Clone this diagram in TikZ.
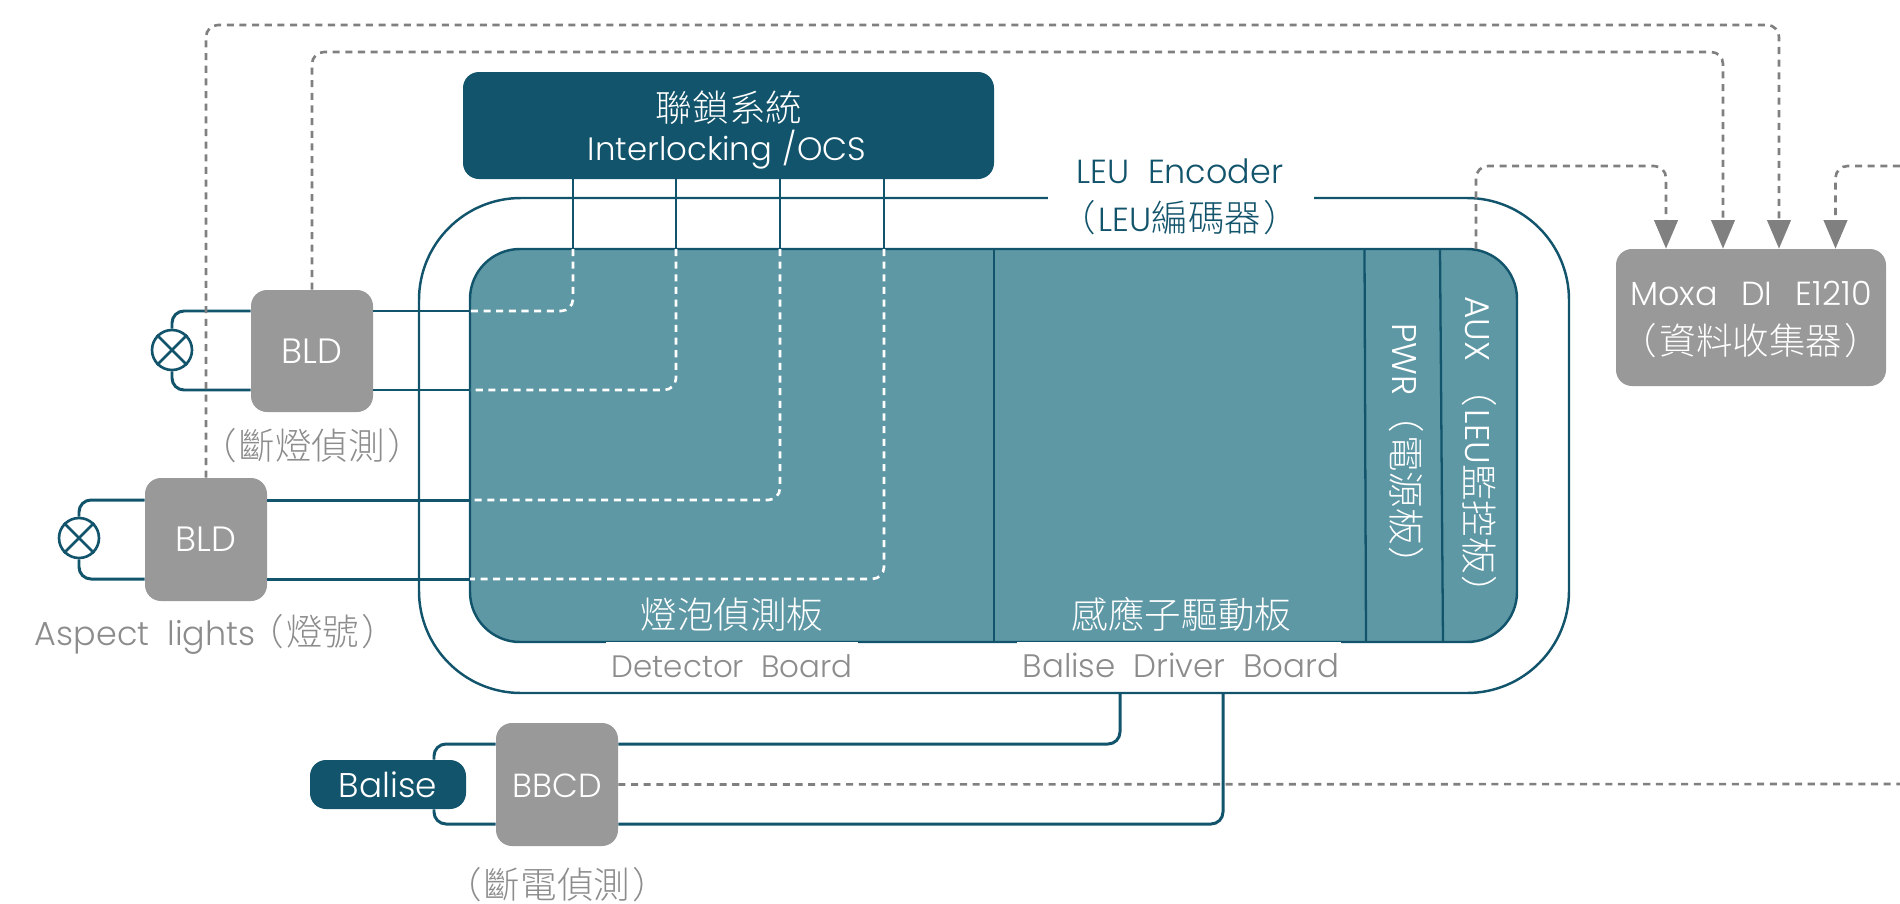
\documentclass[tikz,border=0pt]{standalone}
\usepackage{fontspec}
\setmainfont{Poppins Light}[WordSpace=2]
\newfontfamily\cjk[RawFeature=+palt]{Noto Sans CJK TC Light}
\usetikzlibrary{arrows.meta}
\definecolor{deepteal}{HTML}{12546B}
\definecolor{midteal}{HTML}{5F98A5}
\definecolor{boxgrey}{HTML}{999999}
\definecolor{linegrey}{HTML}{808080}
\definecolor{labelgrey}{HTML}{8C8C8C}
\newcommand{\cn}[1]{{\cjk\fontsize{20.8pt}{24pt}\selectfont #1}}
\newcommand{\lp}{\cn{（}\kern2pt}
\newcommand{\rp}{\kern2pt\cn{）}}
\tikzset{
	x=0.2mm, y=-0.2mm,
	boxsize/.style 2 args={minimum width=#1*0.2mm, minimum height=#2*0.2mm, inner sep=0pt},
	textsize/.style={font=\fontsize{#1pt}{24pt}\selectfont, anchor=base, inner sep=0pt},
	greybox/.style={rectangle, rounded corners=3.2mm, fill=boxgrey},
	darkbox/.style={rectangle, rounded corners=3.2mm, fill=deepteal},
	whitegap/.style={rectangle, fill=white},
	wire/.style={draw=deepteal, line width=1.7pt, rounded corners=2.4mm},
	divider/.style={draw=deepteal, line width=1.3pt},
	whitedash/.style={draw=white, line width=1.5pt, dash pattern=on 4pt off 3.2pt, rounded corners=2.4mm},
	greydash/.style={draw=linegrey, line width=1.5pt, dash pattern=on 4pt off 3.2pt, rounded corners=2.4mm},
	greyarrow/.style={greydash, -{Triangle[length=16.3pt, width=13.4pt, fill=linegrey, sep=0pt]}},
	lampmark/.style={circle, draw=deepteal, line width=1.5pt, fill=white, minimum size=8mm, inner sep=0pt},
}
\begin{document}
\begin{tikzpicture}
	%%%%% START %%%%%
	\useasboundingbox (0, 0) rectangle (1900, 903);
	
	\node[rectangle, draw=deepteal, line width=1.4pt, rounded corners=20.4mm, boxsize={1150}{495}] (leu) at (994, 445.5) {};
	\node[rectangle, draw=deepteal, fill=midteal, line width=1.4pt, rounded corners=10mm, boxsize={1047}{393}] (board) at (993.5, 445.5) {};
	
	\draw[divider] (994, 249) -- (994, 642);
	\draw[divider] (1364.5, 249) -- (1366, 642);
	\draw[divider] (1440, 249) -- (1443, 642);
	
	\node[darkbox, boxsize={531}{107}] (intl) at (728.5, 125.5) {};
	\node[greybox, boxsize={122}{122}] (bldA) at (312, 351) {};
	\node[greybox, boxsize={122}{123}] (bldB) at (206, 539.5) {};
	\node[greybox, boxsize={122}{123}] (bbcd) at (557, 784.5) {};
	\node[darkbox, boxsize={156}{49}] (balise) at (388, 784.5) {};
	\node[greybox, boxsize={270}{137}] (moxa) at (1751, 317.5) {};
	\node[lampmark] (lampA) at (172, 350) {};
	\node[lampmark] (lampB) at (79, 538) {};
	\draw[lampmark] (lampA.45) -- (lampA.225);
	\draw[lampmark] (lampA.135) -- (lampA.-45);
	\draw[lampmark] (lampB.45) -- (lampB.225);
	\draw[lampmark] (lampB.135) -- (lampB.-45);
	
	\coordinate (railA) at (470, 311);
	\coordinate (railB) at (470, 390);
	\coordinate (railC) at (470, 500);
	\coordinate (railD) at (470, 579);
	\coordinate (feedE) at (434, 744);
	\coordinate (feedF) at (434, 824);
	\coordinate (edgeR) at (1900, 784);
	\coordinate (edgeT) at (1900, 166);
	
	% lamp side
	\draw[wire] (bldA.west |- railA) -- (172, 311) -- (lampA.north);
	\draw[wire] (bldA.west |- railB) -- (172, 390) -- (lampA.south);
	\draw[wire] (bldB.west |- railC) -- (79, 500) -- (lampB.north);
	\draw[wire] (bldB.west |- railD) -- (79, 579) -- (lampB.south);
	
	% board side
	\draw[wire] (bldA.east |- railA) -- (railA);
	\draw[wire] (bldA.east |- railB) -- (railB);
	\draw[wire] (bldB.east |- railC) -- (railC);
	\draw[wire] (bldB.east |- railD) -- (railD);
	
	% interlocking
	\draw[divider] (573, 179) -- (573, 249);
	\draw[divider] (676, 179) -- (676, 249);
	\draw[divider] (780, 179) -- (780, 249);
	\draw[divider] (884, 179) -- (884, 249);
	\draw[whitedash] (573, 249) -- (573, 311) -- (railA);
	\draw[whitedash] (676, 249) -- (676, 390) -- (railB);
	\draw[whitedash] (780, 249) -- (780, 500) -- (railC);
	\draw[whitedash] (884, 249) -- (884, 579) -- (railD);
	
	% balise
	\draw[wire] (bbcd.east |- feedE) -- (1120, 744) -- (1120, 693);
	\draw[wire] (bbcd.east |- feedF) -- (1223, 824) -- (1223, 693);
	\draw[wire] (bbcd.west |- feedE) -- (feedE) -- (balise.north -| feedE);
	\draw[wire] (bbcd.west |- feedF) -- (feedF) -- (balise.south -| feedF);
	\draw[greydash] (bbcd.east) -- (edgeR);
	
	% moxa
	\draw[greyarrow] (bldB.north) -- (206, 25) -- (1779, 25) -- (moxa.north -| 1779, 0);
	\draw[greyarrow] (bldA.north) -- (312, 52) -- (1723, 52) -- (moxa.north -| 1723, 0);
	\draw[greyarrow] (1476, 249) -- (1476, 166) -- (1666, 166) -- (moxa.north -| 1666, 0);
	\draw[greyarrow] (edgeT) -- (1835.5, 166) -- (moxa.north -| 1835.5, 0);
	
	\node[whitegap, boxsize={266}{92}] (leuGap) at (1181, 197) {};
	\node[whitegap, boxsize={252}{48}] (detGap) at (732, 666) {};
	\node[whitegap, boxsize={324}{48}] (drvGap) at (1179, 666) {};
	
	\node[textsize=18.4, text=white] (intlEn) at (727, 160) {Interlocking\hspace{-4pt} /OCS};
	\node[textsize=18, text=white] (intlCn) at (729, 121) {\cn{聯鎖系統}};
	\node[textsize=20, text=white] (bldAName) at (312, 363) {BLD};
	\node[textsize=20, text=white] (bldBName) at (206, 551) {BLD};
	\node[textsize=19, text=white] (bbcdName) at (557, 797) {BBCD};
	\node[textsize=19.5, text=white] (baliseName) at (388, 797) {Balise};
	\node[textsize=19, text=white] (moxaEn) at (1751, 305) {Moxa\hspace{3pt} DI\hspace{3pt} E1210};
	\node[textsize=18, text=white] (moxaCn) at (1751, 354) {\lp\cn{資料收集器}\rp};
	
	\node[textsize=19, text=deepteal] (leuEn) at (1180, 183) {LEU Encoder};
	\node[textsize=19, text=deepteal] (leuCn) at (1180, 231) {\lp LEU\cn{編碼器}\rp};
	\node[textsize=17.6, text=labelgrey] (detEn) at (732, 677) {Detector Board};
	\node[textsize=18.5, text=labelgrey] (drvEn) at (1181, 677) {Balise Driver Board};
	
	\node[textsize=18, text=white] (detCn) at (732, 628) {\cn{燈泡偵測板}};
	\node[textsize=18, text=white] (drvCn) at (1181.5, 628) {\cn{感應子驅動板}};
	\node[textsize=19.5, text=white, rotate=-90] (pwrName) at (1392, 445) {PWR\hspace{10pt}\lp\cn{電源板}\rp};
	\node[textsize=19.5, text=white, rotate=-90] (auxName) at (1465, 446) {AUX\hspace{15pt}\lp LEU\cn{監控板}\rp};
	
	\node[textsize=18, text=labelgrey] (bldCap) at (312, 459) {\lp\cn{斷燈偵測}\rp};
	\node[textsize=19, text=labelgrey] (aspectCap) at (208, 645) {Aspect lights\hspace{5pt}\lp\cn{燈號}\rp};
	\node[textsize=18, text=labelgrey] (bbcdCap) at (557, 898) {\lp\cn{斷電偵測}\rp};
	
	%%%%% END %%%%%
\end{tikzpicture}
\end{document}
